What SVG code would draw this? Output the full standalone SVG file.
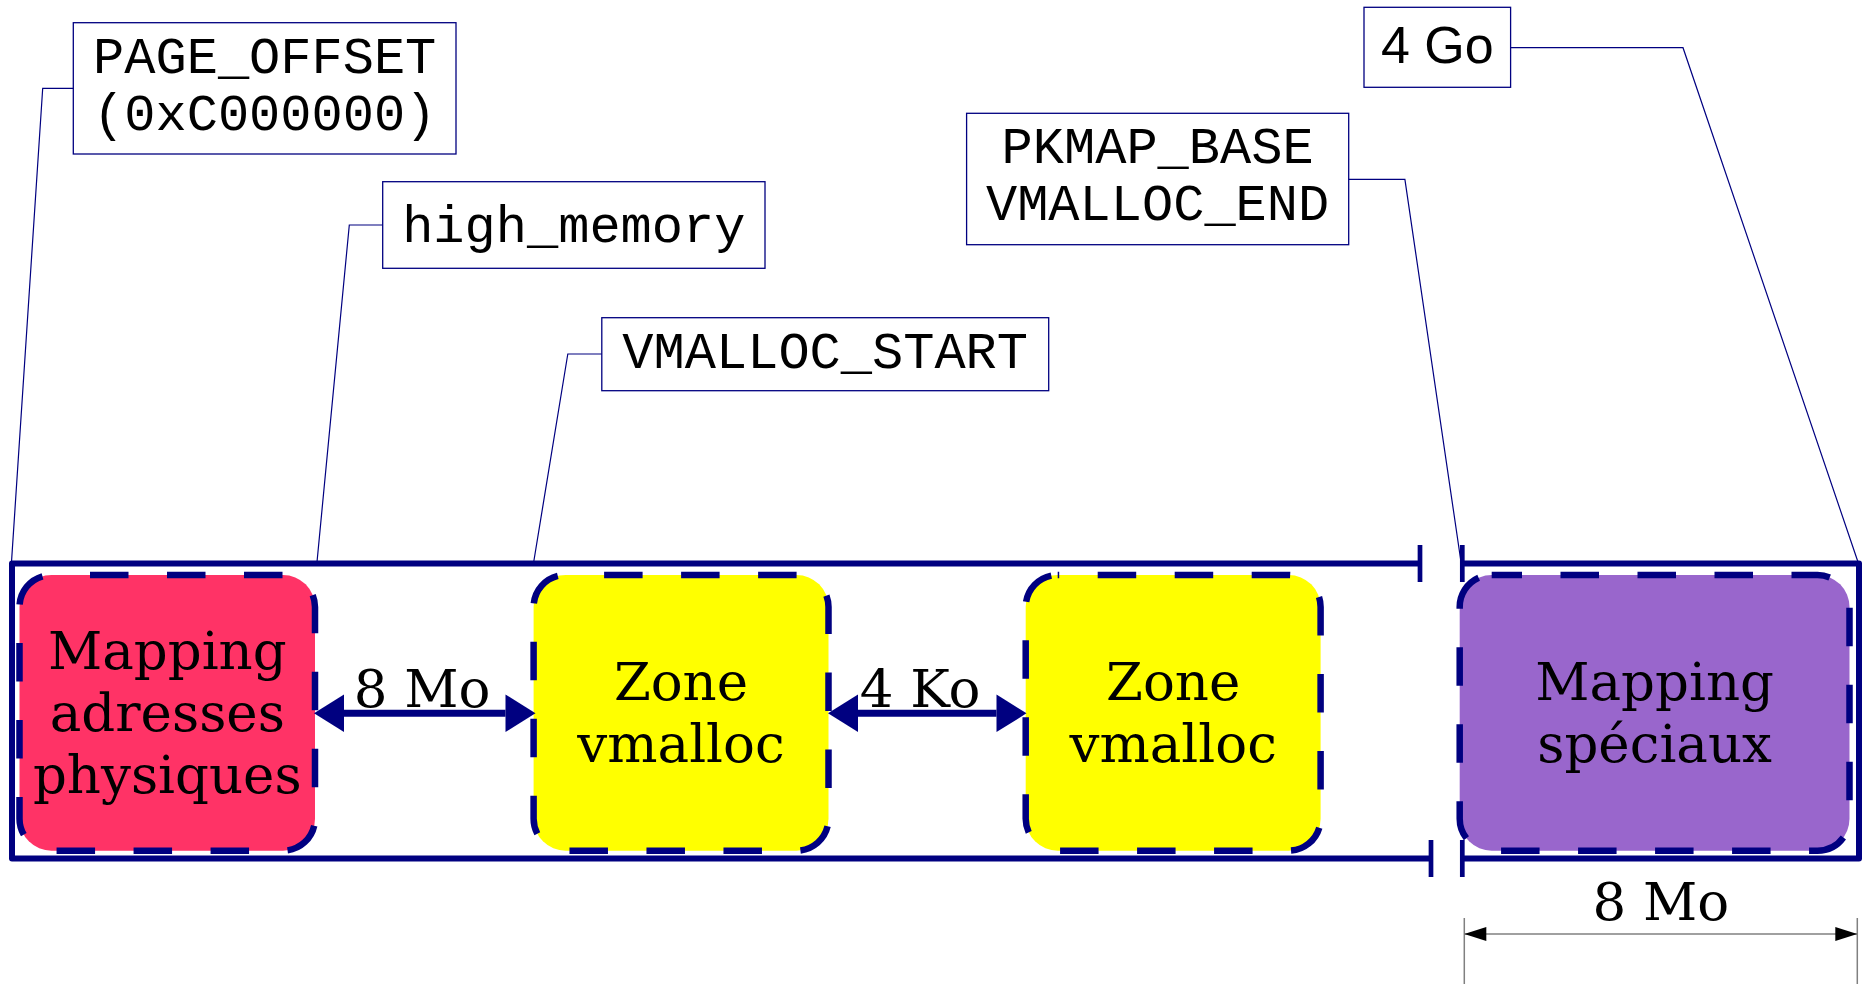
<svg xmlns="http://www.w3.org/2000/svg" width="1866" height="984" viewBox="0 0 1866 984">
  <defs>
    <style>
      .lbl { fill: #ffffff; stroke: #000080; stroke-width: 1.3; }
      .mono { font-family: "Liberation Mono", "DejaVu Sans Mono", monospace; font-size: 52px; fill: #000; text-anchor: middle; }
      .sans { font-family: "Liberation Sans", Arial, sans-serif; font-size: 52px; fill: #000; text-anchor: middle; }
      .serif { font-family: "DejaVu Serif", serif; font-size: 53px; fill: #000; text-anchor: middle; }
      .zone { stroke: #000080; stroke-width: 6.5; stroke-dasharray: 38.5 38.5; }
      .frame { fill: none; stroke: #000080; stroke-width: 6; stroke-linejoin: round; }
      .tick { fill: none; stroke: #000080; stroke-width: 4.7; }
      .leader { fill: none; stroke: #000080; stroke-width: 1.2; }
      .span { fill: none; stroke: #000080; stroke-width: 7; }
      .dim { fill: none; stroke: #808080; stroke-width: 1.5; }
    </style>
    <marker id="head" markerUnits="userSpaceOnUse" markerWidth="32" markerHeight="40" viewBox="0 -20 32 40" refX="0" refY="0" orient="auto-start-reverse" overflow="visible">
      <path d="M0,-18.8 L30,0 L0,18.8 Z" fill="#000080"/>
    </marker>
    <marker id="dimhead" markerUnits="userSpaceOnUse" markerWidth="24" markerHeight="16" viewBox="0 -8 24 16" refX="22" refY="0" orient="auto-start-reverse" overflow="visible">
      <path d="M0,-7 L22,0 L0,7 Z" fill="#000"/>
    </marker>
  </defs>

  <!-- address space frame -->
  <g id="frame">
    <path class="frame" d="M1420,563.5 H12 V858.5 H1431"/>
    <path class="frame" d="M1462.3,563.5 H1859 V858.5 H1462.3"/>
    <path class="tick" d="M1420,545 V582 M1431,840 V877 M1462.3,545 V582 M1462.3,840 V877"/>
  </g>

  <!-- memory zones -->
  <g id="zone-physical">
    <rect class="zone" x="19.5" y="575" width="295.5" height="275.7" rx="32" fill="#FF3366" stroke-dashoffset="38.5"/>
    <text class="serif"><tspan x="167.3" y="669.3">Mapping</tspan><tspan x="167.3" y="730.7">adresses</tspan><tspan x="167.3" y="793.3">physiques</tspan></text>
  </g>
  <g id="zone-vmalloc-1">
    <rect class="zone" x="533.6" y="575" width="294.9" height="275.7" rx="32" fill="#FFFF00" stroke-dashoffset="38.5"/>
    <text class="serif"><tspan x="681" y="700">Zone</tspan><tspan x="681" y="761.7">vmalloc</tspan></text>
  </g>
  <g id="zone-vmalloc-2">
    <rect class="zone" x="1025.7" y="575" width="294.9" height="275.7" rx="32" fill="#FFFF00" stroke-dashoffset="37"/>
    <text class="serif"><tspan x="1173.2" y="700">Zone</tspan><tspan x="1173.2" y="761.7">vmalloc</tspan></text>
  </g>
  <g id="zone-special">
    <rect class="zone" x="1459.7" y="575" width="389.8" height="275.7" rx="32" fill="#9966CC" stroke-dashoffset="8.2"/>
    <text class="serif"><tspan x="1654.6" y="700">Mapping</tspan><tspan x="1654.6" y="761.7">spéciaux</tspan></text>
  </g>

  <!-- address labels -->
  <g id="label-page-offset">
    <rect class="lbl" x="73.3" y="22.7" width="382.7" height="131.3"/>
    <text class="mono"><tspan x="264.7" y="73">PAGE_OFFSET</tspan><tspan x="264.7" y="130">(0xC000000)</tspan></text>
  </g>
  <g id="label-high-memory">
    <rect class="lbl" x="382.7" y="181.7" width="382.3" height="86.6"/>
    <text class="mono" x="573.8" y="241.7">high_memory</text>
  </g>
  <g id="label-vmalloc-start">
    <rect class="lbl" x="601.8" y="317.7" width="446.9" height="73"/>
    <text class="mono" x="825.2" y="368.3">VMALLOC_START</text>
  </g>
  <g id="label-pkmap-base">
    <rect class="lbl" x="966.6" y="113.3" width="382.1" height="131.4"/>
    <text class="mono"><tspan x="1157.6" y="163.3">PKMAP_BASE</tspan><tspan x="1157.6" y="220">VMALLOC_END</tspan></text>
  </g>
  <g id="label-4go">
    <rect class="lbl" x="1364" y="7.3" width="146.6" height="80"/>
    <text class="sans" x="1437.3" y="62.7">4 Go</text>
  </g>

  <!-- leaders, spans and dimension -->
  <g id="connectors">
    <path class="leader" d="M73.3,88.3 H42.7 L11.5,562"/>
    <path class="leader" d="M382.7,225 H349.3 L317,562"/>
    <path class="leader" d="M601.8,354 H567.8 L533.7,562"/>
    <path class="leader" d="M1348.7,179.3 H1404.9 L1461,562"/>
    <path class="leader" d="M1510.6,47.7 H1683 L1858,562"/>

    <path class="span" d="M344,713.3 H505.5" marker-start="url(#head)" marker-end="url(#head)"/>
    <text class="serif" x="422" y="706.7">8 Mo</text>
    <path class="span" d="M858,713.3 H996.5" marker-start="url(#head)" marker-end="url(#head)"/>
    <text class="serif" x="920" y="706.7">4 Ko</text>

    <path class="dim" d="M1464.3,918 V984 M1857.3,918 V984"/>
    <path class="dim" d="M1464.3,934 H1857.3" marker-start="url(#dimhead)" marker-end="url(#dimhead)"/>
    <text class="serif" x="1660.8" y="920">8 Mo</text>
  </g>
</svg>
